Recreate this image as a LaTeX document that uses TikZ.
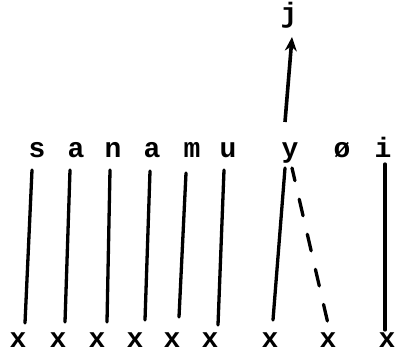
\documentclass[tikz,border=0pt]{standalone}
\usepackage{fontspec}
\setmainfont{Liberation Mono}
\usetikzlibrary{arrows.meta}
\begin{document}
\begin{tikzpicture}[x=1pt,y=-1pt,
  lbl/.style={anchor=base,inner sep=0pt,font=\fontsize{28}{28}\selectfont\bfseries},
  link/.style={line width=3.3pt,line cap=round},
  dlink/.style={link,dash pattern=on 17pt off 19pt,dash phase=4pt},
  up/.style={line width=3.6pt,-{Stealth[length=14pt,width=12pt]}}]
\useasboundingbox (0,0) rectangle (395,356);
% top row
\node[lbl] (t1) at (37,157) {s};
\node[lbl] (t2) at (76,157) {a};
\node[lbl] (t3) at (113,157) {n};
\node[lbl] (t4) at (152,157) {a};
\node[lbl] (t5) at (192,157) {m};
\node[lbl] (t6) at (228,157) {u};
\node[lbl] (t7) at (290,157) {y};
\node[lbl] (t8) at (342,157) {ø};
\node[lbl] (t9) at (383,157) {i};
% bottom row
\node[lbl] (b1) at (18,347) {x};
\node[lbl] (b2) at (58,347) {x};
\node[lbl] (b3) at (97,347) {x};
\node[lbl] (b4) at (135,347) {x};
\node[lbl] (b5) at (172,347) {x};
\node[lbl] (b6) at (210,347) {x};
\node[lbl] (b7) at (270,347) {x};
\node[lbl] (b8) at (328,347) {x};
\node[lbl] (b9) at (387,347) {x};
% top
\node[lbl] (j) at (289,22) {j};
% connectors
\draw[link] ([shift={(-5,13)}]t1.base) -- ([shift={(7,-24)}]b1.base);
\draw[link] ([shift={(-6,13)}]t2.base) -- ([shift={(7,-25)}]b2.base);
\draw[link] ([shift={(-3,13)}]t3.base) -- ([shift={(10,-25)}]b3.base);
\draw[link] ([shift={(-2,14)}]t4.base) -- ([shift={(10,-27)}]b4.base);
\draw[link] ([shift={(-6,16)}]t5.base) -- ([shift={(7,-30)}]b5.base);
\draw[link] ([shift={(-4,13)}]t6.base) -- ([shift={(8,-22)}]b6.base);
\draw[link] ([shift={(-5,11)}]t7.base) -- ([shift={(3,-27)}]b7.base);
\draw[dlink] ([shift={(2,11)}]t7.base) -- ([shift={(1,-19)}]b8.base);
\draw[link] ([shift={(2,7)}]t9.base) -- ([shift={(-2,-17)}]b9.base);
\draw[up] ([shift={(-5,-35)}]t7.base) -- ([shift={(3,15)}]j.base);
\end{tikzpicture}
\end{document}
